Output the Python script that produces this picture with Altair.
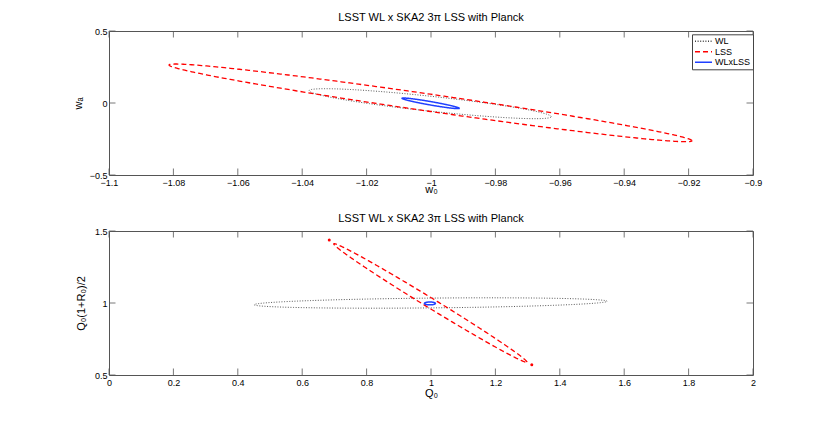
import numpy as np
import pandas as pd
import altair as alt

SERIES = ["WL", "LSS", "WLxLSS"]
COLORS = ["#444444", "#ff0000", "#1f3fff"]
DASHES = [[1, 1.6], [5, 3], [1, 0]]
WIDTHS = [0.9, 1.3, 1.5]

# Fisher ellipses: centre x, centre y, x half-extent, y offset at the x-extreme,
# vertical half-thickness through the centre
TOP_CX = [-1.00025, -1.00015, -1.0001]
TOP_CY = [-0.0048, 0.001, -0.0022]
TOP_DX = [0.0376, 0.0812, 0.0089]
TOP_DY = [-0.0902, -0.263, -0.0348]
TOP_H = [0.052, 0.060, 0.012]

BOT_CX = [0.999, 0.998, 0.9966]
BOT_CY = [1.0, 1.0, 0.997]
BOT_DX = [0.548, 0.300, 0.017]
BOT_DY = [0.012, -0.410, 0.0]
BOT_H = [0.034, 0.040, 0.010]

# isolated red dots at the tips of the LSS ellipse (bottom panel)
DOT_X = [0.684, 1.313]
DOT_Y = [1.4375, 0.571]

TOP_XTICKS = [-1.1, -1.08, -1.06, -1.04, -1.02, -1.0, -0.98, -0.96, -0.94, -0.92, -0.9]
TOP_YTICKS = [-0.5, 0.0, 0.5]
BOT_XTICKS = [0.0, 0.2, 0.4, 0.6, 0.8, 1.0, 1.2, 1.4, 1.6, 1.8, 2.0]
BOT_YTICKS = [0.5, 1.0, 1.5]

TITLE = "LSST WL x SKA2 3\u03c0 LSS with Planck"

W, H = 644, 144
TICK = 6.5
FONT = "Liberation Sans"


def ellipse_table(cx, cy, dx, dy, h):
    rows = []
    t = np.linspace(0, 2 * np.pi, 361)
    for k, s in enumerate(SERIES):
        xs = cx[k] + dx[k] * np.cos(t)
        ys = cy[k] + dy[k] * np.cos(t) + h[k] * np.sin(t)
        for i, (a, b) in enumerate(zip(xs, ys)):
            rows.append({"series": s, "x": a, "y": b, "i": i, "w": WIDTHS[k]})
    return pd.DataFrame(rows)


def panel(cx, cy, dx, dy, h, xdom, ydom, xticks, yticks, xtitle, ytitle,
          xtitle_y, ytitle_x, title_offset, show_legend, dots=None):
    df = ellipse_table(cx, cy, dx, dy, h)
    xs = alt.Scale(domain=xdom, nice=False, zero=False)
    ys = alt.Scale(domain=ydom, nice=False, zero=False)
    xaxis = alt.Axis(
        values=xticks, format=".3~g", title=xtitle, grid=False, domain=False,
        ticks=False, labelPadding=3, labelFontSize=9, labelFont=FONT,
        labelColor="black", labelFlush=False, labelOverlap=False,
        titleFontSize=11, titleFont=FONT, titleFontWeight="normal",
        titleColor="black", titleY=xtitle_y, titleBaseline="alphabetic")
    yaxis = alt.Axis(
        values=yticks, format=".3~g", title=ytitle, grid=False, domain=False,
        ticks=False, labelPadding=2, labelFontSize=9, labelFont=FONT,
        labelColor="black", labelFlush=False, labelOverlap=False,
        titleFontSize=11, titleFont=FONT, titleFontWeight="normal",
        titleColor="black", titleX=ytitle_x, titleBaseline="alphabetic")
    if show_legend:
        leg = alt.Legend(title=None, orient="none", legendX=583, legendY=3.3,
                         direction="vertical", symbolType="stroke", symbolSize=289,
                         symbolStrokeWidth=1.5, clipHeight=10, labelFontSize=9,
                         labelFont=FONT, labelColor="black", strokeColor="#444444",
                         fillColor="white", padding=2, rowPadding=0.5, labelOffset=2)
    else:
        leg = None
    lines = alt.Chart(df).mark_line(clip=True).encode(
        x=alt.X("x:Q", scale=xs, axis=xaxis),
        y=alt.Y("y:Q", scale=ys, axis=yaxis),
        color=alt.Color("series:N", scale=alt.Scale(domain=SERIES, range=COLORS), legend=leg),
        strokeDash=alt.StrokeDash("series:N", scale=alt.Scale(domain=SERIES, range=DASHES), legend=leg),
        strokeWidth=alt.StrokeWidth("w:Q", scale=None),
        order=alt.Order("i:Q"),
    )
    layers = [lines]
    xt = pd.DataFrame({"x": xticks})
    yt = pd.DataFrame({"y": yticks})
    tick_style = dict(color="#555555", strokeWidth=0.8)
    layers.append(alt.Chart(xt).mark_rule(**tick_style).encode(
        x=alt.X("x:Q", scale=xs, axis=xaxis), y=alt.value(H), y2=alt.value(H - TICK)))
    layers.append(alt.Chart(xt).mark_rule(**tick_style).encode(
        x=alt.X("x:Q", scale=xs, axis=xaxis), y=alt.value(0), y2=alt.value(TICK)))
    layers.append(alt.Chart(yt).mark_rule(**tick_style).encode(
        y=alt.Y("y:Q", scale=ys, axis=yaxis), x=alt.value(0), x2=alt.value(TICK)))
    layers.append(alt.Chart(yt).mark_rule(**tick_style).encode(
        y=alt.Y("y:Q", scale=ys, axis=yaxis), x=alt.value(W - TICK), x2=alt.value(W)))
    if dots is not None:
        ddf = pd.DataFrame({"x": dots[0], "y": dots[1]})
        layers.append(alt.Chart(ddf).mark_circle(color="#ff0000", size=9, opacity=1).encode(
            x=alt.X("x:Q", scale=xs, axis=xaxis), y=alt.Y("y:Q", scale=ys, axis=yaxis)))
    return alt.layer(*layers).properties(
        width=W, height=H,
        title=alt.TitleParams(TITLE, fontSize=11, font=FONT, fontWeight="normal",
                              color="black", baseline="alphabetic", offset=title_offset,
                              frame="group", anchor="middle"))


top = panel(TOP_CX, TOP_CY, TOP_DX, TOP_DY, TOP_H, [-1.1, -0.9], [-0.5, 0.5],
            TOP_XTICKS, TOP_YTICKS, "w\u2080", "w\u2090", 17, -28, -5, True)
bot = panel(BOT_CX, BOT_CY, BOT_DX, BOT_DY, BOT_H, [0, 2], [0.5, 1.5],
            BOT_XTICKS, BOT_YTICKS, "Q\u2080", "Q\u2080(1+R\u2080)/2", 21, -24.5, -6, False,
            dots=(DOT_X, DOT_Y))

chart = alt.vconcat(top, bot, spacing=17).resolve_scale(
    x="independent", y="independent"
).resolve_legend(color="independent", strokeDash="independent").properties(
    padding={"left": 63, "top": 3, "right": 5, "bottom": 5}
).configure(
    font=FONT, background="white",
    view=alt.ViewConfig(stroke="#555555", strokeWidth=1),
)

chart.save("out.html", embed_options={"renderer": "svg", "actions": False})
